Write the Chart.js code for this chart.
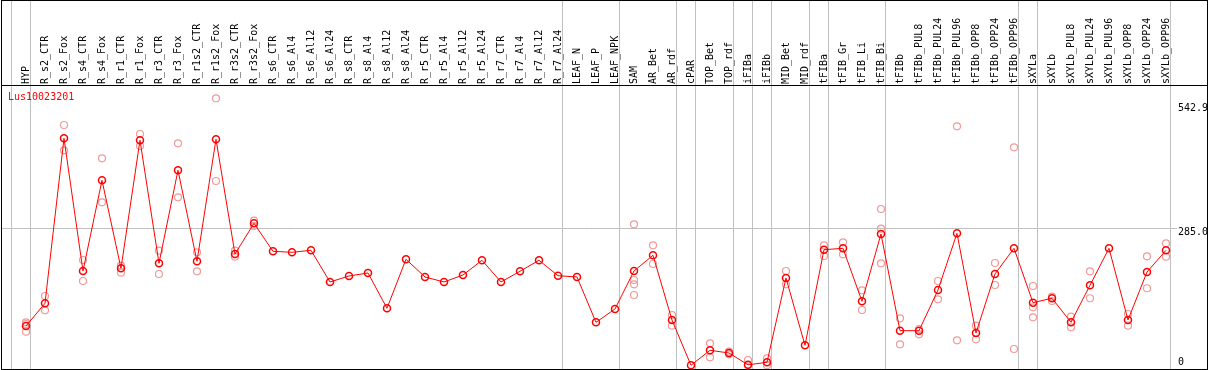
<!DOCTYPE html>
<html><head><meta charset="utf-8">
<script src="https://cdn.jsdelivr.net/npm/chart.js@4"></script>
<style>
html,body{margin:0;padding:0;background:#fff;}
#wrap{position:relative;width:1209px;height:370px;overflow:hidden;}
#c{position:absolute;left:0;top:0;}
#frame{position:absolute;left:1px;top:0;width:1207px;height:370px;box-sizing:border-box;border:1px solid #000;pointer-events:none;}
#sep{position:absolute;left:1px;top:85px;width:1207px;height:1px;background:#000;pointer-events:none;}
#title{position:absolute;left:8px;top:92px;font:10px/10px "DejaVu Sans Mono",monospace;color:#f00;white-space:nowrap;}
</style></head>
<body>
<div id="wrap"><canvas id="c" width="1209" height="370"></canvas><div id="frame"></div><div id="sep"></div><div id="title">Lus10023201</div></div>
<script>
const seriesName = 'Lus10023201';
const categories = ['HYP','R_s2_CTR','R_s2_Fox','R_s4_CTR','R_s4_Fox','R_r1_CTR','R_r1_Fox','R_r3_CTR','R_r3_Fox','R_r1s2_CTR','R_r1s2_Fox','R_r3s2_CTR','R_r3s2_Fox','R_s6_CTR','R_s6_Al4','R_s6_Al12','R_s6_Al24','R_s8_CTR','R_s8_Al4','R_s8_Al12','R_s8_Al24','R_r5_CTR','R_r5_Al4','R_r5_Al12','R_r5_Al24','R_r7_CTR','R_r7_Al4','R_r7_Al12','R_r7_Al24','LEAF_N','LEAF_P','LEAF_NPK','SAM','AR_Bet','AR_rdf','cPAR','TOP_Bet','TOP_rdf','iFIBa','iFIBb','MID_Bet','MID_rdf','tFIBa','tFIB_Gr','tFIB_Li','tFIB_Bi','tFIBb','tFIBb_PUL8','tFIBb_PUL24','tFIBb_PUL96','tFIBb_OPP8','tFIBb_OPP24','tFIBb_OPP96','sXYLa','sXYLb','sXYLb_PUL8','sXYLb_PUL24','sXYLb_PUL96','sXYLb_OPP8','sXYLb_OPP24','sXYLb_OPP96'];
const meanValues = [81.7,129.0,472.1,196.1,384.8,201.7,468.0,212.1,405.6,216.3,
  470.0,231.5,295.3,237.1,235.0,239.2,173.3,185.7,192.0,118.6,
  220.5,183.7,173.3,187.8,218.4,173.3,195.5,218.4,186.4,183.7,
  89.4,117.1,196.1,228.8,94.2,0,31.2,25.6,1.0,6.2,
  181.6,41.6,240.4,243.3,133.1,273.1,72.0,72.0,156.6,274.5,
  67.2,189.9,243.3,130.2,139.4,89.4,166.4,243.3,94.2,194.0,239.2];
const replicateValues = [[89.4,85.9,69.9],[144.1,114.4],[499.8,447.2],[219.0,175.3],[430.5,339.0],[207.2,192.6],[481.1,456.1],[238.4,189.9],[461.7,349.4],[235.0,195.5],
  [555.3,383.3],[238.4,225.9],[300.7,289.7],[],[],[],[],[],[],[],
  [],[],[],[],[],[],[],[],[],[],
  [],[],[293.3,177.4,168.5,146.2],[249.6,210.7],[104.6,82.4],[],[45.8,16.6],[28.3,22.9],[11.0,0],[14.6,0],
  [196.1,168.5],[],[249.6,227.3],[255.8,230.9],[156.0,115.0],[325.1,284.1,212.1],[97.8,43.7],[75.5,64.5],[175.3,137.3],[497.1,52.0],
  [82.4,54.1],[212.8,167.0],[453.4,33.9],[164.9,120.6,99.8],[142.7,133.7],[101.1,79.0],[195.5,139.4],[],[106.7,82.4],[226.7,160.2],[253.7,225.9]];
const groupEnds = [-1,0,28,31,34,35,37,38,39,41,42,45,52,53,60];
const yTickValues = [542.9,285.0,0];
const yTickLabels = ['542.9','285.0','0'];
const yGridValue = 285.0;

const X_MIN = -1.263, X_MAX = 60.579;
const Y_MIN = -7.7, Y_MAX = 580.9;
const FONT = {family:'"DejaVu Sans Mono", monospace', size:10};

const meanData = meanValues.map((v,i)=>({x:i,y:v}));
const repData = [];
replicateValues.forEach((arr,i)=>arr.forEach(v=>repData.push({x:i,y:v})));

function noPad(s){ s.paddingTop=0; s.paddingBottom=0; s.paddingLeft=0; s.paddingRight=0; }

new Chart(document.getElementById('c'), {
  type:'line',
  data:{datasets:[
    {label:seriesName, data:meanData, xAxisID:'x', yAxisID:'y', order:0,
     borderColor:'#ff0000', borderWidth:1, tension:0, fill:false,
     pointRadius:3.5, pointBorderWidth:1.5, pointBorderColor:'#ff0000', pointBackgroundColor:'rgba(0,0,0,0)', clip:false},
    {label:seriesName+' replicates', data:repData, xAxisID:'x', yAxisID:'y', order:1, showLine:false,
     pointRadius:3.5, pointBorderWidth:1.2, pointBorderColor:'#f09a9a', pointBackgroundColor:'rgba(0,0,0,0)', clip:false}
  ]},
  options:{
    responsive:false, animation:false, devicePixelRatio:1,
    layout:{autoPadding:false, padding:{left:2,right:2,top:0,bottom:1}},
    plugins:{legend:{display:false}, tooltip:{enabled:false}},
    scales:{
      x:{type:'linear', position:'top', min:X_MIN, max:X_MAX, weight:1,
        afterBuildTicks:s=>{s.ticks=categories.map((c,i)=>({value:i}));},
        afterFit:s=>{s.height=86; noPad(s);},
        ticks:{autoSkip:false, minRotation:90, maxRotation:90, padding:2, labelOffset:12, color:'#000', font:FONT,
          callback:(v)=>categories[v]},
        grid:{display:false, drawTicks:false, tickLength:0}, border:{display:false}},
      xg:{type:'linear', position:'top', min:X_MIN, max:X_MAX, weight:0,
        afterBuildTicks:s=>{s.ticks=groupEnds.map(i=>({value:i+0.25}));},
        afterFit:s=>{s.height=0; noPad(s);},
        ticks:{display:false},
        grid:{color:'#c0c0c0', lineWidth:1, drawTicks:true, tickLength:86},
        border:{display:false}},
      y:{type:'linear', position:'right', min:Y_MIN, max:Y_MAX,
        afterBuildTicks:s=>{s.ticks=yTickValues.map(v=>({value:v}));},
        afterFit:s=>{s.width=30; noPad(s);},
        ticks:{autoSkip:false, padding:1, labelOffset:4, color:'#000',
          font:(ctx)=>(ctx.tick && ctx.tick.value===0)?{...FONT, lineHeight:'14px'}:FONT,
          callback:(v)=>{const t=yTickLabels[yTickValues.indexOf(v)]; return v===0?[t,'']:t;}},
        grid:{drawTicks:false, color:(ctx)=>(ctx.tick && ctx.tick.value===yGridValue)?'#c0c0c0':'rgba(0,0,0,0)'},
        border:{display:false}}
    }
  }
});
</script>
</body></html>
